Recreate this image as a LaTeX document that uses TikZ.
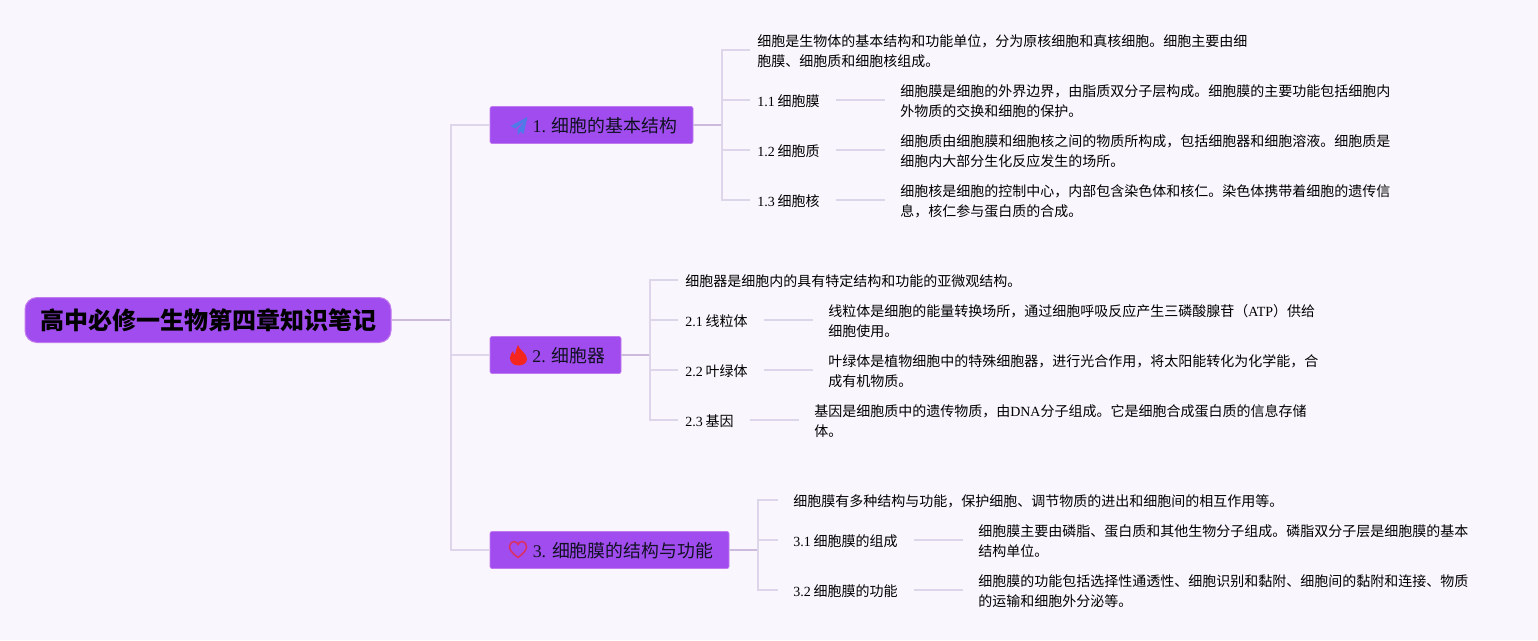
\documentclass[tikz,border=0pt]{standalone}
\usepackage{fontspec}
\setmainfont{Liberation Serif}
\newfontfamily\cjk{Noto Sans CJK SC}
\newcommand{\lat}[1]{{\rmfamily #1}}
\newcommand{\num}[1]{{\rmfamily #1}\hspace{2.2pt}}
\definecolor{bgc}{HTML}{F9F6FD}
\definecolor{boxc}{HTML}{A04CEE}
\definecolor{boxb}{HTML}{C27BEF}
\definecolor{linec}{HTML}{DDD6EA}
\definecolor{linek}{HTML}{CDBBDD}
\definecolor{inkc}{HTML}{111122}
\definecolor{planec}{HTML}{4F7BE8}
\definecolor{flamec}{HTML}{F5261E}
\definecolor{heartc}{HTML}{DC2F5E}
\tikzset{
  rootbox/.style={draw=boxb,fill=boxc,line width=0.75pt,rounded corners=9pt,minimum width=274.5pt,minimum height=33.75pt,inner sep=0pt,text=black,text height=14.4pt,text depth=0pt,font=\cjk\bfseries\fontsize{18}{22}\selectfont},
  topicbox/.style={draw=boxb,fill=boxc,line width=0.5pt,rounded corners=1.5pt,minimum height=27.75pt,inner sep=0pt,text=inkc,text height=11.6pt,text depth=0pt,font=\cjk\fontsize{13.4}{16}\selectfont},
  leaf/.style={anchor=west,inner xsep=5.25pt,inner ysep=0pt,align=left,text=black,text height=9.4pt,text depth=0pt,font=\cjk\fontsize{10.5}{15}\selectfont},
  para/.style={anchor=west,inner xsep=11.25pt,inner ysep=0pt,align=left,text width=385pt,text=black,font=\cjk\fontsize{10.5}{15}\selectfont},
  thin link/.style={draw=linec,line width=1.1pt},
  thick link/.style={draw=linek,line width=1.4pt},
}
\begin{document}
\begin{tikzpicture}[x=0.75pt,y=-0.75pt]
\useasboundingbox (0,0) rectangle (1538,640);
\fill[bgc] (0,0) rectangle (1538,640);

\coordinate (tr) at (451,320);
\coordinate (s1) at (722,125);
\coordinate (s2) at (650,355);
\coordinate (s3) at (758,550);

\node[rootbox] (root) at (208,320) {高中必修一生物第四章知识笔记};
\node[topicbox,minimum width=152.25pt] (b1) at (591.5,125) {\hspace*{20pt}\lat{1. }细胞的基本结构};
\node[topicbox,minimum width=98.25pt] (b2) at (555.5,355) {\hspace*{20pt}\lat{2. }细胞器};
\node[topicbox,minimum width=179.25pt] (b3) at (609.5,550) {\hspace*{20pt}\lat{3. }细胞膜的结构与功能};

% branch 1
\node[para,text width=480pt,inner xsep=5.25pt] (l10) at (750,51) {细胞是生物体的基本结构和功能单位，分为原核细胞和真核细胞。细胞主要由细\\胞膜、细胞质和细胞核组成。};
\node[leaf,text width=53.25pt] (l11) at (750,100) {\num{1.1}细胞膜};
\node[leaf,text width=53.25pt] (l12) at (750,150) {\num{1.2}细胞质};
\node[leaf,text width=53.25pt] (l13) at (750,200) {\num{1.3}细胞核};
\node[para] (p11) at (885,101) {细胞膜是细胞的外界边界，由脂质双分子层构成。细胞膜的主要功能包括细胞内\\外物质的交换和细胞的保护。};
\node[para] (p12) at (885,151) {细胞质由细胞膜和细胞核之间的物质所构成，包括细胞器和细胞溶液。细胞质是\\细胞内大部分生化反应发生的场所。};
\node[para] (p13) at (885,201) {细胞核是细胞的控制中心，内部包含染色体和核仁。染色体携带着细胞的遗传信\\息，核仁参与蛋白质的合成。};

% branch 2
\node[leaf,text width=480pt] (l20) at (678,280) {细胞器是细胞内的具有特定结构和功能的亚微观结构。};
\node[leaf,text width=53.25pt] (l21) at (678,320) {\num{2.1}线粒体};
\node[leaf,text width=53.25pt] (l22) at (678,370) {\num{2.2}叶绿体};
\node[leaf,text width=42.75pt] (l23) at (678,420) {\num{2.3}基因};
\node[para] (p21) at (813,321) {线粒体是细胞的能量转换场所，通过细胞呼吸反应产生三磷酸腺苷（\lat{ATP}）供给\\细胞使用。};
\node[para] (p22) at (813,371) {叶绿体是植物细胞中的特殊细胞器，进行光合作用，将太阳能转化为化学能，合\\成有机物质。};
\node[para] (p23) at (799,421) {基因是细胞质中的遗传物质，由\lat{DNA}分子组成。它是细胞合成蛋白质的信息存储\\体。};

% branch 3
\node[leaf,text width=480pt,inner xsep=11.25pt] (l30) at (778,500) {细胞膜有多种结构与功能，保护细胞、调节物质的进出和细胞间的相互作用等。};
\node[leaf,text width=78.75pt,inner xsep=11.25pt] (l31) at (778,540) {\num{3.1}细胞膜的组成};
\node[leaf,text width=78.75pt,inner xsep=11.25pt] (l32) at (778,590) {\num{3.2}细胞膜的功能};
\node[para] (p31) at (963,541) {细胞膜主要由磷脂、蛋白质和其他生物分子组成。磷脂双分子层是细胞膜的基本\\结构单位。};
\node[para] (p32) at (963,591) {细胞膜的功能包括选择性通透性、细胞识别和黏附、细胞间的黏附和连接、物质\\的运输和细胞外分泌等。};

% connectors
\draw[thick link] (root.east) -- (tr);
\draw[thin link] (tr) |- (b1.west);
\draw[thin link] (tr) |- (b2.west);
\draw[thin link] (tr) |- (b3.west);

\draw[thick link] (b1.east) -- (s1);
\draw[thin link] (s1) |- ([yshift=0.75pt]l10.west);
\foreach \n in {l11,l12,l13} \draw[thin link] (s1) |- (\n.west);
\foreach \a/\b in {l11/p11,l12/p12,l13/p13} \draw[thin link] (\a.east) -- (\a.east -| \b.west);

\draw[thick link] (b2.east) -- (s2);
\foreach \n in {l20,l21,l22,l23} \draw[thin link] (s2) |- (\n.west);
\foreach \a/\b in {l21/p21,l22/p22,l23/p23} \draw[thin link] (\a.east) -- (\a.east -| \b.west);

\draw[thick link] (b3.east) -- (s3);
\foreach \n in {l30,l31,l32} \draw[thin link] (s3) |- (\n.west);
\foreach \a/\b in {l31/p31,l32/p32} \draw[thin link] (\a.east) -- (\a.east -| \b.west);

% icons
\fill[planec] (527.5,117) -- (510.5,126) -- (515.5,128.5) -- (525,120.5) -- (517.5,130) -- (518,135) -- (520.5,131.5) -- (523.5,134) -- cycle;
\fill[flamec] (518,345) .. controls (519,350) and (527,353) .. (527,359) .. controls (527,363) and (523,365.5) .. (518.5,365.5) .. controls (513,365.5) and (510,362) .. (510,358) .. controls (510,355) and (511.5,352.5) .. (513,351) .. controls (513.5,353) and (514,354) .. (515,354.5) .. controls (516,351) and (516,348) .. (518,345) -- cycle;
\draw[draw=heartc,line width=1.1pt] (518,557.5) .. controls (512,553) and (509.5,550) .. (509.5,546.5) .. controls (509.5,543.5) and (512,541.5) .. (514,541.5) .. controls (516,541.5) and (517.5,543) .. (518,544.5) .. controls (518.5,543) and (520,541.5) .. (522,541.5) .. controls (524,541.5) and (526.5,543.5) .. (526.5,546.5) .. controls (526.5,550) and (524,553) .. (518,557.5) -- cycle;
\end{tikzpicture}
\end{document}
